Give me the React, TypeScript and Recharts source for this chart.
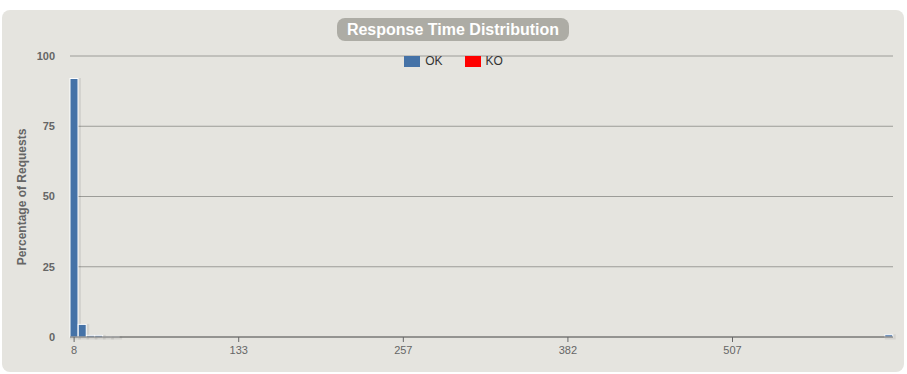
import { BarChart, Bar, XAxis, YAxis, CartesianGrid } from 'recharts'

// response time buckets (ms)
const categories = [
  8, 14, 20, 27, 33, 39, 45, 52, 58, 64,
  70, 77, 83, 89, 95, 102, 108, 114, 120, 126,
  133, 139, 145, 151, 158, 164, 170, 176, 183, 189,
  195, 201, 208, 214, 220, 226, 233, 239, 245, 251,
  257, 264, 270, 276, 282, 289, 295, 301, 307, 314,
  320, 326, 332, 339, 345, 351, 357, 364, 370, 376,
  382, 388, 395, 401, 407, 413, 420, 426, 432, 438,
  445, 451, 457, 463, 470, 476, 482, 488, 495, 501,
  507, 513, 519, 526, 532, 538, 544, 551, 557, 563,
  569, 576, 582, 588, 594, 601, 607, 613, 619, 626,
]

// percentage of requests, OK
const okValues = [
  92, 4.5, 0.6, 0.6, 0.05, 0.05, 0, 0, 0, 0,
  0, 0, 0, 0, 0, 0, 0, 0, 0, 0,
  0, 0, 0, 0, 0, 0, 0, 0, 0, 0,
  0, 0, 0, 0, 0, 0, 0, 0, 0, 0,
  0, 0, 0, 0, 0, 0, 0, 0, 0, 0,
  0, 0, 0, 0, 0, 0, 0, 0, 0, 0,
  0, 0, 0, 0, 0, 0, 0, 0, 0, 0,
  0, 0, 0, 0, 0, 0, 0, 0, 0, 0,
  0, 0, 0, 0, 0, 0, 0, 0, 0, 0,
  0, 0, 0, 0, 0, 0, 0, 0, 0, 0.8,
]

// percentage of requests, KO
const koValues = categories.map(() => 0)

const yTicks = [0, 25, 50, 75, 100]

const series = [
  { key: 'ok', name: 'OK', color: '#4572A7' },
  { key: 'ko', name: 'KO', color: '#FF0000' },
]

const data = categories.map((c, i) => ({
  time: String(c),
  ok: okValues[i],
  ko: koValues[i],
}))

const FONT = '"Liberation Sans", Arial, sans-serif'

function ShadowBar(props: any) {
  const { x, y, width, height, fill } = props
  if (!height || height <= 0) return null
  return (
    <g>
      <rect x={x + 1.5} y={y + 1} width={width} height={height} fill="none" stroke="rgba(0,0,0,0.07)" strokeWidth={3} />
      <rect x={x} y={y} width={width} height={height} fill={fill} stroke="#ffffff" strokeWidth={1} />
    </g>
  )
}

export default function App() {
  return (
    <div style={{ position: 'absolute', left: 0, top: 0, width: 907, height: 374, background: '#fff' }}>
      <div
        style={{
          position: 'absolute',
          left: 2,
          top: 10,
          width: 902,
          height: 362,
          borderRadius: 8,
          background: '#e5e4df',
        }}
      />
      <div
        style={{
          position: 'absolute',
          left: 337,
          top: 18,
          width: 232,
          height: 23,
          borderRadius: 8,
          background: '#adaca5',
          color: '#fff',
          fontFamily: FONT,
          fontWeight: 'bold',
          fontSize: 16,
          lineHeight: '23px',
          textAlign: 'center',
        }}
      >
        Response Time Distribution
      </div>
      <div style={{ position: 'absolute', left: 0, top: 0 }}>
        <BarChart
          width={907}
          height={374}
          data={data}
          barCategoryGap={0}
          barGap={0}
          margin={{ top: 56, right: 14, left: 10, bottom: 7 }}
        >
          <CartesianGrid vertical={false} stroke="#9c9c98" />
          <XAxis
            dataKey="time"
            interval={19}
            height={30}
            axisLine={{ stroke: '#666' }}
            tickLine={{ stroke: '#666' }}
            tickSize={5}
            tickMargin={4}
            tick={{ fill: '#666', fontSize: 11, fontFamily: FONT }}
          />
          <YAxis
            width={60}
            domain={[0, 100]}
            ticks={yTicks}
            axisLine={false}
            tickLine={false}
            tickSize={0}
            tickMargin={15}
            tick={{ fill: '#666', fontSize: 11, fontFamily: FONT, fontWeight: 'bold' }}
            label={{
              content: () => (
                <text
                  x={22}
                  y={197}
                  transform="rotate(-90 22 197)"
                  textAnchor="middle"
                  dominantBaseline="central"
                  fill="#666"
                  fontSize={12}
                  fontWeight="bold"
                  fontFamily={FONT}
                >
                  Percentage of Requests
                </text>
              ),
            }}
          />
          {series.map((s) => (
            <Bar
              key={s.key}
              dataKey={s.key}
              name={s.name}
              stackId="a"
              fill={s.color}
              shape={ShadowBar}
              isAnimationActive={false}
            />
          ))}
        </BarChart>
      </div>
      {/* legend */}
      <div
        style={{
          position: 'absolute',
          left: 0,
          top: 54,
          width: 907,
          display: 'flex',
          justifyContent: 'center',
          gap: 22,
          fontFamily: FONT,
          fontSize: 12,
          color: '#333',
          lineHeight: '15px',
        }}
      >
        {series.map((s) => (
          <div key={s.key} style={{ display: 'flex', alignItems: 'center' }}>
            <span style={{ display: 'inline-block', width: 16, height: 11, background: s.color, marginRight: 5 }} />
            <span>{s.name}</span>
          </div>
        ))}
      </div>
    </div>
  )
}
